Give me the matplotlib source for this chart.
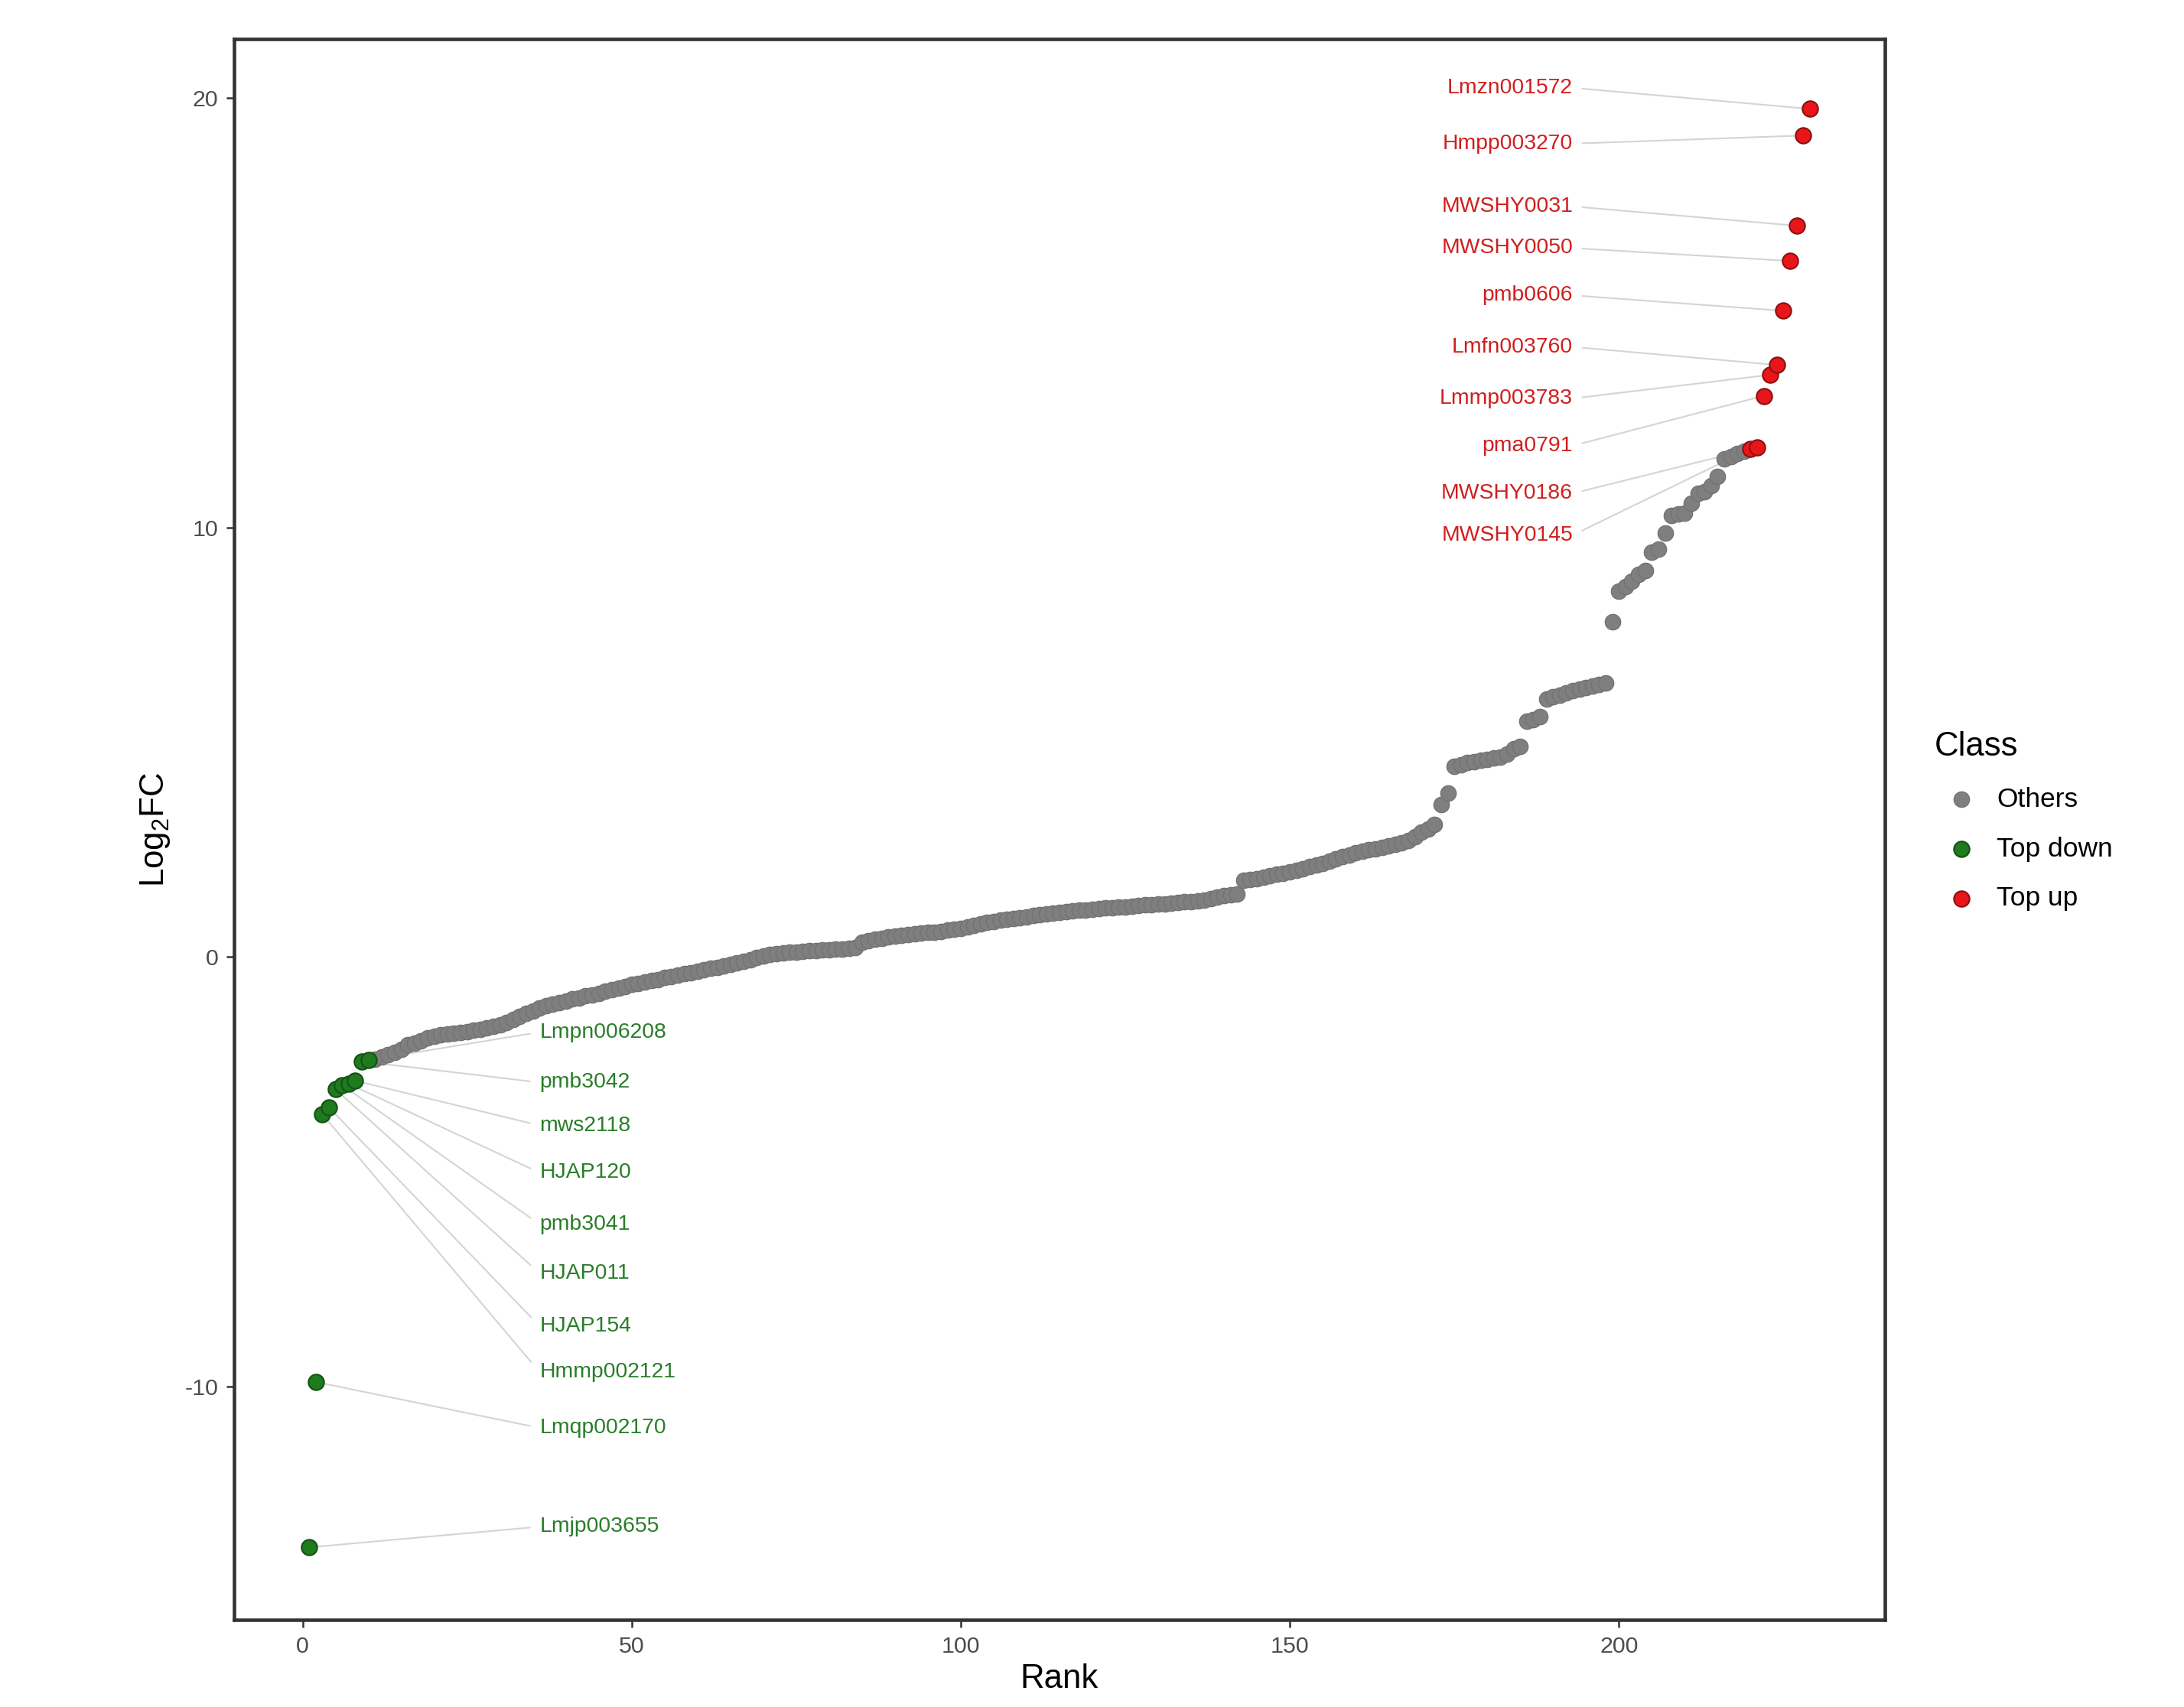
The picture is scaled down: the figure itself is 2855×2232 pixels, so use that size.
import matplotlib
matplotlib.use('Agg')
import matplotlib.pyplot as plt

plt.rcParams['font.family'] = ['Liberation Sans', 'DejaVu Sans']
plt.rcParams['axes.unicode_minus'] = False
plt.rcParams['mathtext.default'] = 'regular'

# log2FC sorted by rank (1..229)
down_vals = [-13.74, -9.89, -3.66, -3.50, -3.08, -2.98, -2.95, -2.88, -2.43, -2.40]
other_vals = [
    -2.38, -2.33, -2.28, -2.22, -2.15, -2.05, -2.00, -1.95, -1.88, -1.84,
    -1.81, -1.79, -1.78, -1.76, -1.74, -1.71, -1.68, -1.65, -1.62, -1.58,
    -1.52, -1.45, -1.38, -1.32, -1.25, -1.18, -1.13, -1.10, -1.06, -1.02,
    -0.98, -0.95, -0.91, -0.88, -0.84, -0.80, -0.76, -0.72, -0.68, -0.64,
    -0.61, -0.58, -0.55, -0.52, -0.48, -0.45, -0.42, -0.39, -0.36, -0.33,
    -0.30, -0.27, -0.24, -0.20, -0.17, -0.13, -0.10, -0.06, -0.02, 0.03,
    0.06, 0.08, 0.10, 0.11, 0.12, 0.13, 0.14, 0.15, 0.16, 0.17,
    0.18, 0.19, 0.20, 0.22, 0.34, 0.38, 0.41, 0.44, 0.46, 0.48,
    0.50, 0.52, 0.54, 0.55, 0.57, 0.58, 0.60, 0.62, 0.64, 0.66,
    0.70, 0.74, 0.77, 0.80, 0.83, 0.86, 0.88, 0.90, 0.92, 0.94,
    0.96, 0.98, 1.00, 1.02, 1.04, 1.06, 1.08, 1.09, 1.10, 1.11,
    1.12, 1.14, 1.15, 1.16, 1.17, 1.18, 1.20, 1.21, 1.22, 1.23,
    1.24, 1.25, 1.27, 1.28, 1.29, 1.30, 1.32, 1.36, 1.40, 1.43,
    1.45, 1.47, 1.78, 1.80, 1.83, 1.86, 1.89, 1.92, 1.95, 1.98,
    2.02, 2.06, 2.10, 2.14, 2.18, 2.23, 2.28, 2.33, 2.38, 2.43,
    2.47, 2.50, 2.52, 2.55, 2.58, 2.62, 2.66, 2.72, 2.80, 2.90,
    2.98, 3.08, 3.55, 3.82, 4.44, 4.48, 4.52, 4.55, 4.58, 4.60,
    4.63, 4.66, 4.72, 4.85, 4.90, 5.48, 5.52, 5.60, 6.00, 6.05,
    6.10, 6.15, 6.20, 6.24, 6.28, 6.31, 6.34, 6.38, 7.80, 8.51,
    8.62, 8.75, 8.90, 9.00, 9.42, 9.50, 9.86, 10.28, 10.31, 10.33,
    10.56, 10.79, 10.82, 10.97, 11.18, 11.59, 11.64, 11.72, 11.78,
]
up_vals = [11.83, 11.86, 13.06, 13.55, 13.78, 15.04, 16.20, 17.02, 19.12, 19.74]

down_names = ['Lmjp003655', 'Lmqp002170', 'Hmmp002121', 'HJAP154', 'HJAP011',
              'pmb3041', 'HJAP120', 'mws2118', 'pmb3042', 'Lmpn006208']
up_names = ['MWSHY0145', 'MWSHY0186', 'pma0791', 'Lmmp003783', 'Lmfn003760',
            'pmb0606', 'MWSHY0050', 'MWSHY0031', 'Hmpp003270', 'Lmzn001572']

n_down = len(down_vals)
n_other = len(other_vals)
down_rank = list(range(1, n_down + 1))
other_rank = list(range(n_down + 1, n_down + n_other + 1))
up_rank = list(range(n_down + n_other + 1, n_down + n_other + len(up_vals) + 1))

# label placement (repel-like layout)
down_label_x = 36
down_label_y = [-13.26, -10.96, -9.66, -8.59, -7.36, -6.22, -5.02, -3.92, -2.92, -1.75]
up_label_x = 193
up_label_y = [9.82, 10.79, 11.90, 13.00, 14.20, 15.40, 16.50, 17.47, 18.93, 20.23]

c_other = '#7f7f7f'
c_down = '#1E7B1E'
c_up = '#E8161B'
c_down_txt = '#2A7D2A'
c_up_txt = '#D01E1E'
c_seg = '#D4D4D4'

fig = plt.figure(figsize=(2855 / 300, 2232 / 300), dpi=300)
ax = fig.add_axes([0.1072, 0.051, 0.7558, 0.926])

ms = 24
ax.scatter(other_rank, other_vals, s=ms, color=c_other, edgecolors='#727272',
           linewidths=0.3, label='Others', zorder=3)
ax.scatter(down_rank, down_vals, s=ms, color=c_down, edgecolors='#145214',
           linewidths=0.5, label='Top down', zorder=4)
ax.scatter(up_rank, up_vals, s=ms, color=c_up, edgecolors='#8a1010',
           linewidths=0.5, label='Top up', zorder=4)

for r, v, name, ly in zip(down_rank, down_vals, down_names, down_label_y):
    ax.annotate(name, xy=(r, v), xytext=(down_label_x, ly), textcoords='data',
                ha='left', va='center', fontsize=6.8, color=c_down_txt,
                arrowprops=dict(arrowstyle='-', color=c_seg, lw=0.5,
                                shrinkA=1, shrinkB=2, relpos=(0, 0.5)),
                zorder=2)

for r, v, name, ly in zip(up_rank, up_vals, up_names, up_label_y):
    ax.annotate(name, xy=(r, v), xytext=(up_label_x, ly), textcoords='data',
                ha='right', va='center', fontsize=6.8, color=c_up_txt,
                arrowprops=dict(arrowstyle='-', color=c_seg, lw=0.5,
                                shrinkA=1, shrinkB=2, relpos=(1, 0.5)),
                zorder=2)

ax.set_xlim(-10.4, 240.4)
ax.set_ylim(-15.43, 21.36)
ax.set_xticks([0, 50, 100, 150, 200])
ax.set_yticks([-10, 0, 10, 20])

for sp in ax.spines.values():
    sp.set_linewidth(1.1)
    sp.set_color('#333333')
ax.tick_params(axis='both', direction='out', length=2.5, width=0.6,
               color='#333333', labelsize=7.3, labelcolor='#4D4D4D', pad=2.5)

ax.set_xlabel('Rank', fontsize=10.5, labelpad=2)
ax.set_ylabel('Log$_{2}$FC', fontsize=10.5, labelpad=4)

leg = fig.legend(loc='center left', bbox_to_anchor=(0.8745, 0.519), frameon=False,
                 title='Class', fontsize=8.5, title_fontsize=10.5,
                 handletextpad=0.3, labelspacing=0.9, markerscale=1.0,
                 alignment='left')

fig.savefig('out.png', dpi=300)
